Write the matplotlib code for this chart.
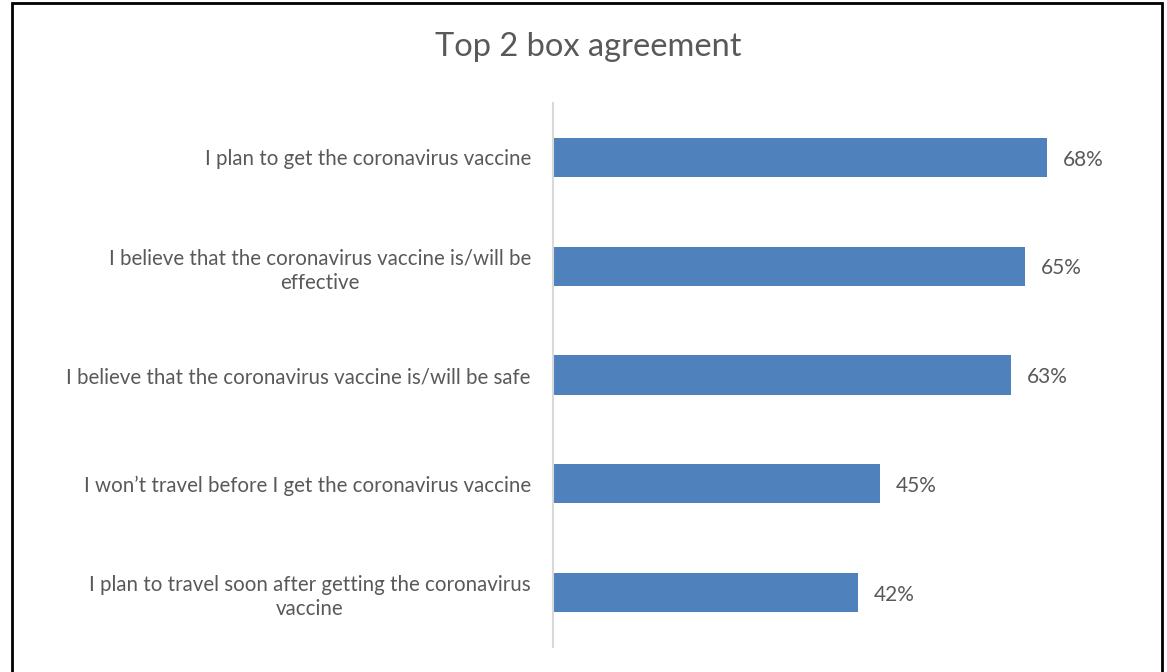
import matplotlib
matplotlib.use("Agg")
import matplotlib.pyplot as plt
from matplotlib.patches import Rectangle

BLUE = "#4f81bd"
TEXT = "#595959"

labels = [
    "I plan to get the coronavirus vaccine",
    "I believe that the coronavirus vaccine is/will be\neffective",
    "I believe that the coronavirus vaccine is/will be safe",
    "I won\u2019t travel before I get the coronavirus vaccine",
    "I plan to travel soon after getting the coronavirus\nvaccine",
]
values = [68, 65, 63, 45, 42]

plt.rcParams["font.family"] = ["Lato", "DejaVu Sans"]

fig = plt.figure(figsize=(11.67, 6.72), dpi=100)
ax = fig.add_axes([553 / 1167, 1 - 647 / 672, (1134 - 553) / 1167, (647 - 103) / 672])

y = list(range(len(labels)))
ax.barh(y, values, height=0.36, color=BLUE)
ax.set_ylim(len(labels) - 0.5, -0.5)
ax.set_xlim(0, 80)

for yi, v in zip(y, values):
    ax.text(v + 2.2, yi + 0.02, f"{v}%", va="center", ha="left", fontsize=15, color=TEXT)

ax.set_yticks(y)
ax.set_yticklabels(labels, fontsize=14.8, color=TEXT, multialignment="center",
                   linespacing=1.3)
ax.tick_params(axis="y", length=0, pad=16)
ax.set_xticks([])
for s in ["top", "right", "bottom"]:
    ax.spines[s].set_visible(False)
ax.spines["left"].set_color("#d9d9d9")
ax.spines["left"].set_linewidth(1.5)

fig.text(588 / 1167, 1 - 47 / 672, "Top 2 box agreement", ha="center", va="center",
         fontsize=23.5, color=TEXT)

# outer chart border (open at the bottom edge of the image)
fig.patches.append(Rectangle((11.5 / 1167, -0.05), (1162 - 11.5) / 1167, 1.05 - 3.5 / 672,
                             transform=fig.transFigure, fill=False, edgecolor="black", lw=2))

fig.savefig("out.png", dpi=100)
